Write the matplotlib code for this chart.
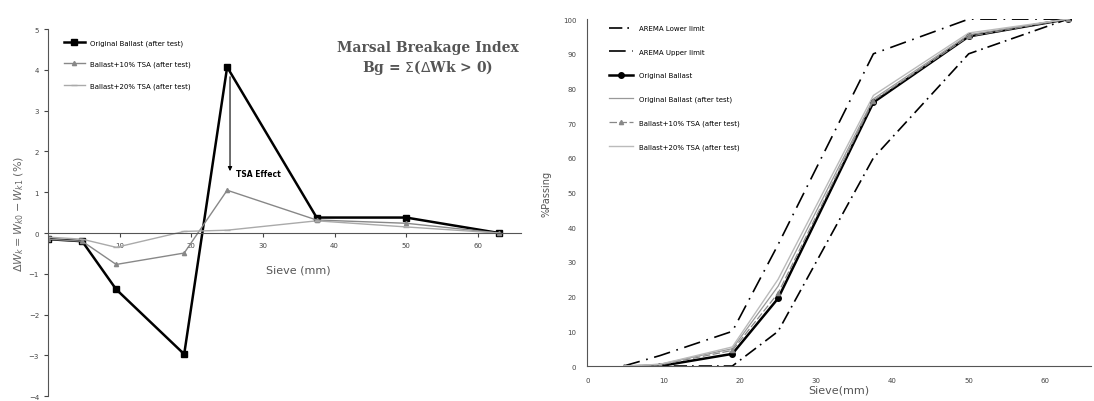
import numpy as np
import matplotlib
matplotlib.use("Agg")
import matplotlib.pyplot as plt

# 左: 粒度別の質量変化 ΔW (%)
sieve_l = [0, 4.75, 9.5, 19, 25, 37.5, 50, 63]
orig_after_dw = [-0.15, -0.2, -1.38, -2.97, 4.07, 0.38, 0.38, 0.0]
tsa10_dw = [-0.15, -0.2, -0.77, -0.49, 1.05, 0.32, 0.24, 0.0]
tsa20_dw = [-0.1, -0.15, -0.35, 0.04, 0.07, 0.3, 0.15, 0.0]

# 右: 通過質量百分率
sieve_r = [4.75, 9.5, 19, 25, 37.5, 50, 63]
arema_lower = [0, 0, 0, 10, 60, 90, 100]
arema_upper = [0, 3, 10, 35, 90, 100, 100]
orig_pass = [np.nan, 0, 3.5, 19.5, 76, 95, 100]
orig_after_pass = [0, 0.5, 5, 23, 77, 95.5, 100]
tsa10_pass = [0, 0.3, 4.5, 21, 76.5, 95, 100]
tsa20_pass = [0, 0.5, 5.5, 25, 78, 96, 100]

legend_l = ["Original Ballast (after test)", "Ballast+10% TSA (after test)",
            "Ballast+20% TSA (after test)"]
legend_r = ["AREMA Lower limit", "AREMA Upper limit", "Original Ballast",
            "Original Ballast (after test)", "Ballast+10% TSA (after test)",
            "Ballast+20% TSA (after test)"]

plt.rcParams["font.family"] = "DejaVu Sans"
fig = plt.figure(figsize=(10.94, 4.02), dpi=100)

# ---- 左のグラフ ----
ax1 = fig.add_axes([0.044, 0.012, 0.432, 0.913])
ax1.plot(sieve_l, orig_after_dw, color="black", lw=1.8, marker="s", ms=4,
         label=legend_l[0])
ax1.plot(sieve_l, tsa10_dw, color="#888888", lw=1.0, marker="^", ms=3,
         label=legend_l[1])
ax1.plot(sieve_l, tsa20_dw, color="#aaaaaa", lw=1.0, marker="_", ms=5,
         label=legend_l[2])
ax1.set_xlim(0, 66)
ax1.set_ylim(-4, 5)
ax1.spines["top"].set_visible(False)
ax1.spines["right"].set_visible(False)
ax1.spines["bottom"].set_position(("data", 0))
ax1.spines["bottom"].set_color("#555555")
ax1.spines["left"].set_color("#555555")
ax1.set_xticks([10, 20, 30, 40, 50, 60])
ax1.set_yticks(range(-4, 6))
ax1.tick_params(labelsize=5, colors="#444444", length=3)
ax1.set_ylabel(r"$\Delta W_k = W_{k0} - W_{k1}$ (%)", fontsize=8,
               color="#666666", labelpad=2)
ax1.text(35, -0.9, "Sieve (mm)", fontsize=8, color="#555555",
         ha="center", va="center")
ax1.text(53, 4.3, "Marsal Breakage Index\n" + r"Bg = $\Sigma$($\Delta$Wk > 0)",
         fontsize=10, family="serif", color="#555555", ha="center",
         va="center", fontweight="bold")
ax1.annotate("TSA Effect", xy=(25.4, 1.45), xytext=(26.3, 1.45),
             fontsize=5.5, fontweight="bold", va="center")
ax1.annotate("", xy=(25.4, 1.45), xytext=(25.4, 3.9),
             arrowprops=dict(arrowstyle="-|>", color="black", lw=0.8,
                             mutation_scale=6))
ax1.legend(loc="upper left", bbox_to_anchor=(0.02, 0.99), fontsize=5,
           frameon=False, labelspacing=2.2, handlelength=3)

# ---- 右のグラフ ----
ax2 = fig.add_axes([0.537, 0.087, 0.460, 0.863])
ax2.plot(sieve_r, arema_lower, color="black", lw=1.2, ls=(0, (8, 3, 1, 3)),
         label=legend_r[0])
ax2.plot(sieve_r, arema_upper, color="black", lw=1.2, ls=(0, (10, 4, 1, 4)),
         label=legend_r[1])
ax2.plot(sieve_r, orig_pass, color="black", lw=1.8, marker="o", ms=4,
         label=legend_r[2])
ax2.plot(sieve_r, orig_after_pass, color="#999999", lw=0.9, label=legend_r[3])
ax2.plot(sieve_r, tsa10_pass, color="#888888", lw=0.9, marker="^", ms=3,
         ls=(0, (6, 2)), label=legend_r[4])
ax2.plot(sieve_r, tsa20_pass, color="#bbbbbb", lw=1.0, label=legend_r[5])
ax2.set_xlim(0, 66)
ax2.set_ylim(0, 100)
ax2.spines["top"].set_visible(False)
ax2.spines["right"].set_visible(False)
ax2.spines["bottom"].set_color("#555555")
ax2.spines["left"].set_color("#555555")
ax2.set_xticks(range(0, 70, 10))
ax2.set_yticks(range(0, 110, 10))
ax2.tick_params(labelsize=5, colors="#444444", length=0, pad=8)
ax2.set_xlabel("Sieve(mm)", fontsize=8, color="#555555", labelpad=1)
ax2.set_ylabel("%Passing", fontsize=7, color="#555555", labelpad=8)
ax2.legend(loc="upper left", bbox_to_anchor=(0.03, 1.0), fontsize=5,
           frameon=False, labelspacing=2.5, handlelength=3.5)

fig.savefig("out.png", dpi=100)
